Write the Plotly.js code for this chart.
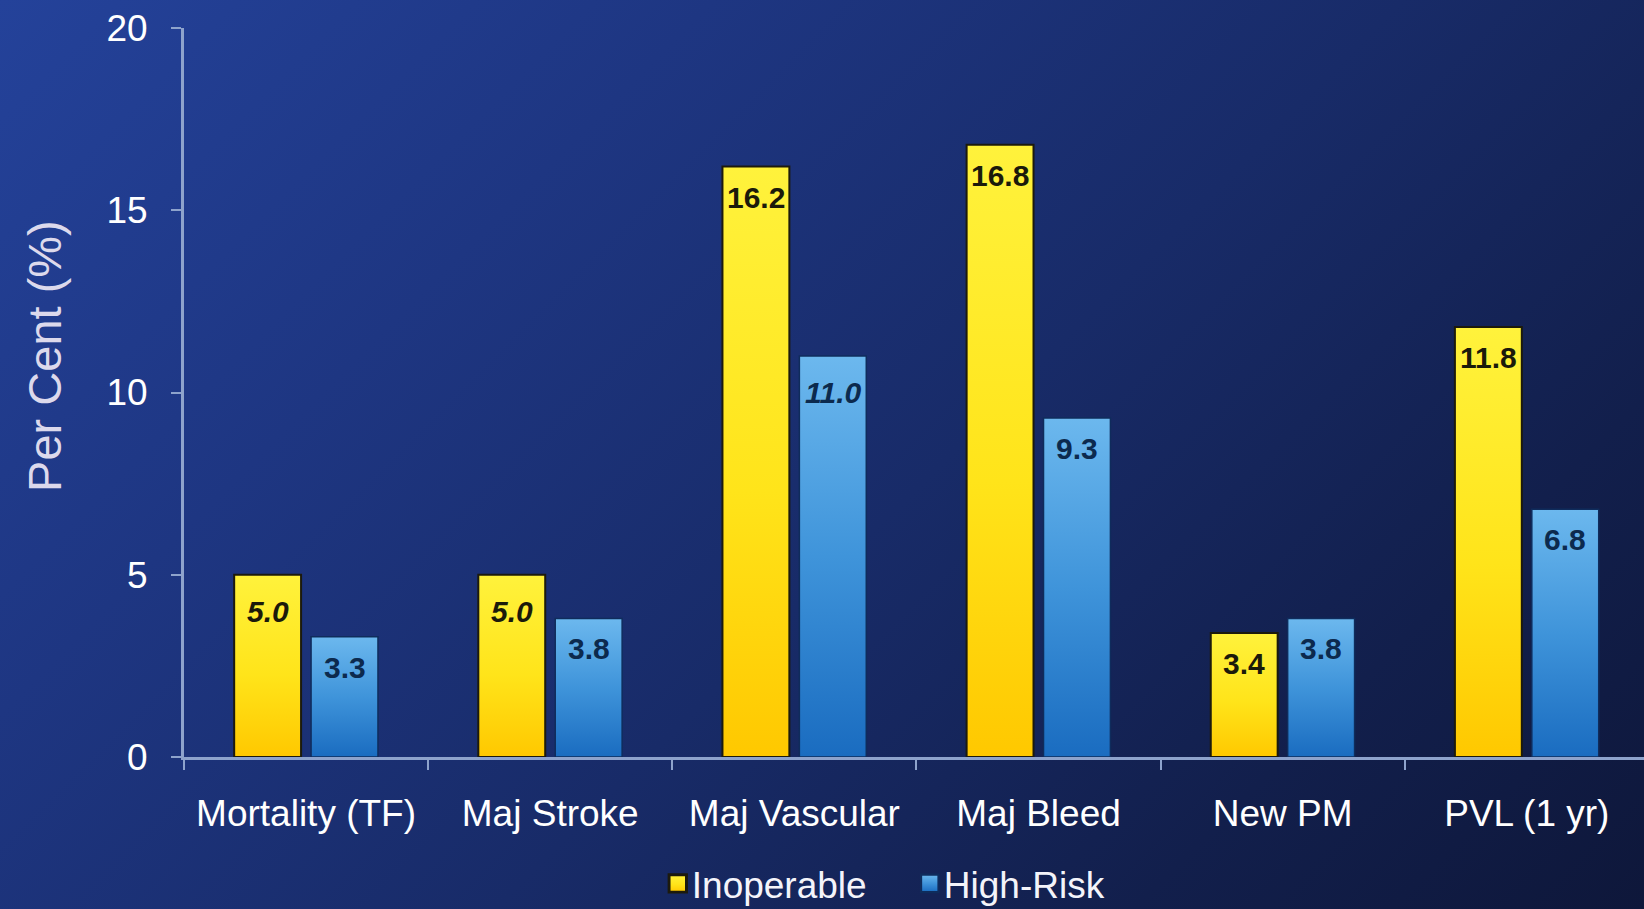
<!DOCTYPE html>
<html>
<head>
<meta charset="utf-8">
<script src="https://cdn.plot.ly/plotly-3.0.1.min.js"></script>
<style>
  html, body { margin: 0; padding: 0; }
  body {
    width: 1644px; height: 909px; overflow: hidden;
    background: linear-gradient(135deg, #24429a 0%, #1e3682 28%, #182b68 55%, #121f4c 80%, #0e173a 100%);
  }
  #chart { width: 1644px; height: 909px; }
</style>
</head>
<body>
<svg width="0" height="0" style="position:absolute">
  <defs>
    <linearGradient id="gradYellow" x1="0" y1="0" x2="0" y2="1">
      <stop offset="0" stop-color="#fff23c"/>
      <stop offset="0.55" stop-color="#ffe41a"/>
      <stop offset="1" stop-color="#ffc800"/>
    </linearGradient>
    <linearGradient id="gradBlue" x1="0" y1="0" x2="0" y2="1">
      <stop offset="0" stop-color="#6cb8ee"/>
      <stop offset="0.5" stop-color="#3f94da"/>
      <stop offset="1" stop-color="#1a6cc0"/>
    </linearGradient>
  </defs>
</svg>
<div id="chart"></div>
<script>
// Complication rates by cohort
const categories = ['Mortality (TF)', 'Maj Stroke', 'Maj Vascular', 'Maj Bleed', 'New PM', 'PVL (1 yr)'];
const inoperable = [5.0, 5.0, 16.2, 16.8, 3.4, 11.8];
const highRisk   = [3.3, 3.8, 11.0, 9.3, 3.8, 6.8];
const seriesNames = ['Inoperable', 'High-Risk'];
const yTicks = [0, 5, 10, 15, 20];

// labels shown in italics
const italicInoperable = [true, true, false, false, false, false];
const italicHighRisk   = [false, false, true, false, false, false];

const axisColor = '#8ea3cc';
const bargap = 0.37;
const bargroupgap = 0.13;

const traces = [
  {
    type: 'bar', name: seriesNames[0], x: categories, y: inoperable,
    marker: { color: '#ffe11a', line: { color: '#1c1a0c', width: 2 } },
    hoverinfo: 'none'
  },
  {
    type: 'bar', name: seriesNames[1], x: categories, y: highRisk,
    marker: { color: '#3a8fd6', line: { color: '#0f2c5c', width: 1.5 } },
    hoverinfo: 'none'
  }
];

// value labels placed just inside the top of each bar
const slot = (1 - bargap) / 2;
const annotations = [];
function addLabels(values, italics, side, color) {
  values.forEach((v, i) => {
    const txt = v.toFixed(1);
    annotations.push({
      x: i + side * slot / 2, y: v, xref: 'x', yref: 'y',
      text: italics[i] ? '<i>' + txt + '</i>' : txt,
      showarrow: false, yanchor: 'top', xanchor: 'center', yshift: italics[i] ? -18 : -12,
      font: { family: 'Arial, Liberation Sans, sans-serif', size: 30, color: color, weight: 'bold' }
    });
  });
}
addLabels(inoperable, italicInoperable, -1, '#1b1a0a');
addLabels(highRisk, italicHighRisk, 1, '#0c2a4e');

annotations.push({
  text: 'Per Cent (%)', textangle: -90, showarrow: false,
  xref: 'paper', yref: 'paper', x: -0.096, y: 0.55, xanchor: 'center', yanchor: 'middle',
  font: { family: 'Arial, Liberation Sans, sans-serif', size: 47, color: '#dcd9ec' }
});

const layout = {
  width: 1644, height: 909,
  margin: { l: 184, r: 0, t: 28, b: 152, autoexpand: false },
  paper_bgcolor: 'rgba(0,0,0,0)',
  plot_bgcolor: 'rgba(0,0,0,0)',
  barmode: 'group', bargap: bargap, bargroupgap: bargroupgap,
  font: { family: 'Arial, Liberation Sans, sans-serif', color: '#ffffff' },
  showlegend: true,
  legend: {
    orientation: 'h', x: 0.493, xanchor: 'center', y: -0.174, yanchor: 'middle',
    entrywidth: 207, entrywidthmode: 'pixels',
    font: { size: 37, color: '#f4f4fa' }, bgcolor: 'rgba(0,0,0,0)'
  },
  xaxis: {
    type: 'category', range: [-0.5, 5.48],
    showline: true, linecolor: axisColor, linewidth: 3,
    ticks: 'outside', tickson: 'boundaries', ticklen: 10, tickwidth: 2, tickcolor: axisColor,
    tickfont: { size: 37, color: '#ffffff' }, ticklabelstandoff: 22,
    showgrid: false, zeroline: false, fixedrange: true
  },
  yaxis: {
    range: [0, 20], tickvals: yTicks, ticktext: yTicks.map(String),
    showline: true, linecolor: axisColor, linewidth: 3,
    ticks: 'outside', ticklen: 10, tickwidth: 2, tickcolor: axisColor,
    tickfont: { size: 37, color: '#ffffff' }, ticklabelstandoff: 16,
    showgrid: false, zeroline: false, fixedrange: true
  },
  annotations: annotations
};

function applyGradients() {
  const grads = ['url(#gradYellow)', 'url(#gradBlue)'];
  document.querySelectorAll('#chart .barlayer .trace.bars').forEach((g, t) => {
    g.querySelectorAll('.point path').forEach(p => { p.style.fill = grads[t % 2]; });
  });
  // larger legend swatches, set close to their labels
  document.querySelectorAll('#chart .legend .traces').forEach((g, t) => {
    g.querySelectorAll('.legendpoints path').forEach(p => {
      p.style.fill = grads[t % 2];
      p.setAttribute('transform', 'translate(26,0) scale(1.45)');
    });
  });
}

Plotly.newPlot('chart', traces, layout, { displayModeBar: false, staticPlot: true }).then(gd => {
  applyGradients();
  gd.on('plotly_afterplot', applyGradients);
});
</script>
</body>
</html>
